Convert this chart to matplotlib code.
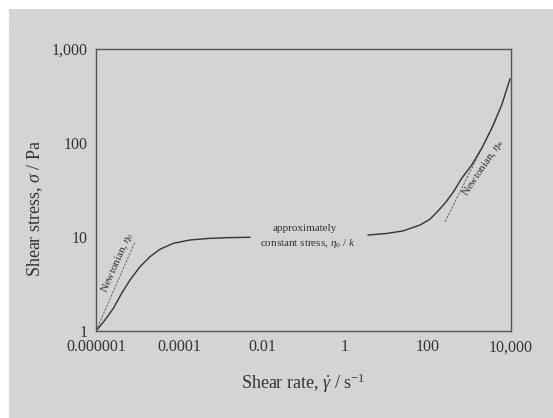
import matplotlib
matplotlib.use("Agg")
import matplotlib.pyplot as plt
from matplotlib.patches import Rectangle
from matplotlib.lines import Line2D

# flow curve (shear rate / s^-1, shear stress / Pa)
rate_low = [1e-6, 1.65e-6, 2.61e-6, 4.16e-6, 6.6e-6, 1.15e-5, 2.0e-5, 3.48e-5,
            7.3e-5, 1.84e-4, 5.6e-4, 1.6e-3, 5.1e-3]
stress_low = [1.0, 1.31, 1.74, 2.52, 3.49, 4.83, 6.17, 7.40, 8.57, 9.29, 9.68, 9.85, 9.93]
rate_high = [3.6, 10.1, 25, 64, 112, 174, 272, 424, 649, 1130, 1970, 3430, 5970, 9470]
stress_high = [10.5, 10.9, 11.6, 13.4, 15.5, 18.9, 23.6, 30.9, 42.1, 58.3, 87.8, 143,
               254, 480]

# Newtonian asymptotes
newt0_rate = [1e-6, 8.7e-6]
newt0_stress = [1.0, 8.9]
newtinf_rate = [257, 4500]
newtinf_stress = [14.5, 182]

xticks = [1e-6, 1e-4, 1e-2, 1, 1e2, 1e4]
xticklabels = ["0.000001", "0.0001", "0.01", "1", "100", "10,000"]
yticks = [1, 10, 100, 1000]
yticklabels = ["1", "10", "100", "1,000"]

plt.rcParams["font.family"] = ["Liberation Serif", "DejaVu Serif"]
plt.rcParams["mathtext.fontset"] = "custom"
plt.rcParams["mathtext.rm"] = "Liberation Serif"
plt.rcParams["mathtext.it"] = "Liberation Serif:italic"

bg = "#d3d4d6"
ink = "#333333"

fig = plt.figure(figsize=(5.53, 4.18), dpi=100, facecolor="white")
fig.add_artist(Rectangle((9 / 553, 0), 1, 409 / 418, transform=fig.transFigure,
                         facecolor=bg, edgecolor="none", zorder=-10))
fig.add_artist(Line2D([12 / 553, 1], [394 / 418, 394 / 418], transform=fig.transFigure,
                      color="#c4c5c7", lw=0.6, ls=(0, (1, 6)), zorder=-5))

ax = fig.add_axes([96 / 553, 87 / 418, 415 / 553, 282 / 418])
ax.set_facecolor(bg)
ax.set_xscale("log")
ax.set_yscale("log")
ax.set_xlim(1e-6, 1e4)
ax.set_ylim(1, 1000)

ax.plot(newt0_rate, newt0_stress, color="#555555", lw=0.6, ls=(0, (3, 1.5)))
ax.plot(newtinf_rate, newtinf_stress, color="#555555", lw=0.6, ls=(0, (3, 1.5)))
ax.plot(rate_low, stress_low, color=ink, lw=1.0)
ax.plot(rate_high, stress_high, color=ink, lw=1.0)

ax.set_xticks(xticks)
ax.set_xticklabels(xticklabels)
ax.set_yticks(yticks)
ax.set_yticklabels(yticklabels)
ax.minorticks_off()
ax.tick_params(length=0, labelsize=11.5, colors=ink, pad=6)

for s in ax.spines.values():
    s.set_color("#555555")
    s.set_linewidth(1.0)

ax.set_xlabel(r"Shear rate, $\dot{\gamma}$ / s$^{\mathregular{-1}}$", fontsize=13,
              color=ink, va="center")
ax.xaxis.set_label_coords(0.5, -(383 - 331) / 282)
ax.set_ylabel(r"Shear stress, $\sigma$ / Pa", fontsize=13, color=ink, va="center")
ax.yaxis.set_label_coords((35 - 96) / 415, (331 - 208) / 282)

ax.text(3.2e-6, 5.4, r"Newtonian, $\eta_{\mathregular{o}}$", fontsize=8, color=ink,
        rotation=66, rotation_mode="anchor", ha="center", va="center")
ax.text(2110, 54.2, r"Newtonian, $\eta_{\infty}$", fontsize=8, color=ink,
        rotation=56, rotation_mode="anchor", ha="center", va="center")
ax.text(0.109, 12.4, "approximately", fontsize=8, color=ink, ha="center", va="center")
ax.text(0.128, 8.43, r"constant stress, $\eta_{\mathregular{o}}$ / $k$", fontsize=8,
        color=ink, ha="center", va="center")

fig.savefig("out.png", dpi=100, facecolor=fig.get_facecolor())
